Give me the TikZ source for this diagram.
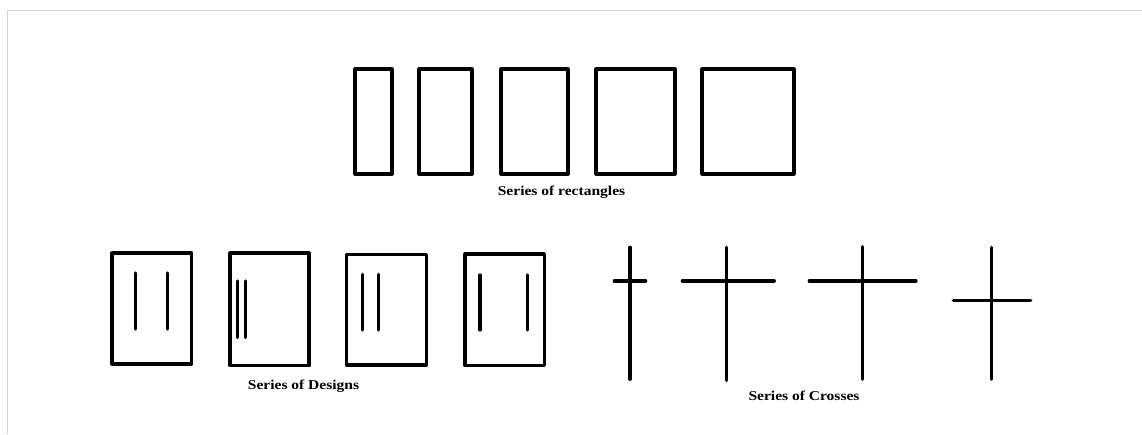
\documentclass[tikz,border=0pt]{standalone}
\usepackage{fontspec}
\setmainfont{Liberation Serif}
\begin{document}
\begin{tikzpicture}[x=1pt,y=-1pt,
  outlinebox/.style={draw=black,line width=3.2pt,line cap=round,line join=round},
  bar/.style={draw=black,line width=3.2pt,line cap=round},
  caption/.style={font=\bfseries\fontsize{13.5}{15}\selectfont,inner sep=0pt,anchor=center,xscale=1.15},
  frameline/.style={draw=black!17,line width=1.5pt}]
\useasboundingbox (0,0) rectangle (1142,434);
% frame
\draw[frameline] (7.5,434) -- (7.5,10.5) -- (1142,10.5);
% rectangles
\draw[outlinebox] (355,69) rectangle (392,174);
\draw[outlinebox] (419,69) rectangle (472,174);
\draw[outlinebox] (501,69) rectangle (568,174);
\draw[outlinebox] (596,69) rectangle (675,174);
\draw[outlinebox] (702,69) rectangle (794,174);
\node[caption] (rc) at (561.5,192) {Series of rectangles};
% designs
\draw[outlinebox] (112,253) rectangle (191.5,364);
\draw[bar] (135.7,273) -- (135.7,329);
\draw[bar] (167.7,273) -- (167.7,329);
\draw[outlinebox] (230,253) rectangle (309,365.5);
\draw[bar] (237.7,281) -- (237.7,337.5);
\draw[bar] (245.7,281) -- (245.7,337.5);
\draw[outlinebox] (346.7,254.3) rectangle (426.7,365);
\draw[bar] (362.3,274.3) -- (362.3,330);
\draw[bar] (378.3,274.3) -- (378.3,330);
\draw[outlinebox] (465,254) rectangle (544.3,365.5);
\draw[bar] (480,275) -- (480,330);
\draw[bar] (527.7,275) -- (527.7,330);
\node[caption] (dc) at (303.5,386) {Series of Designs};
% crosses
\draw[bar] (630,247.3) -- (630,379.3);
\draw[bar] (614.3,281) -- (645.7,281);
\draw[bar] (726.7,247.3) -- (726.7,380.5);
\draw[bar] (682.3,281) -- (774.3,281);
\draw[bar] (862.7,246.7) -- (862.7,379.3);
\draw[bar] (809.3,281) -- (916,281);
\draw[bar] (991.7,247.3) -- (991.7,379.3);
\draw[bar] (953.3,300.7) -- (1030.7,300.7);
\node[caption] (cc) at (804,396) {Series of Crosses};
\end{tikzpicture}
\end{document}
